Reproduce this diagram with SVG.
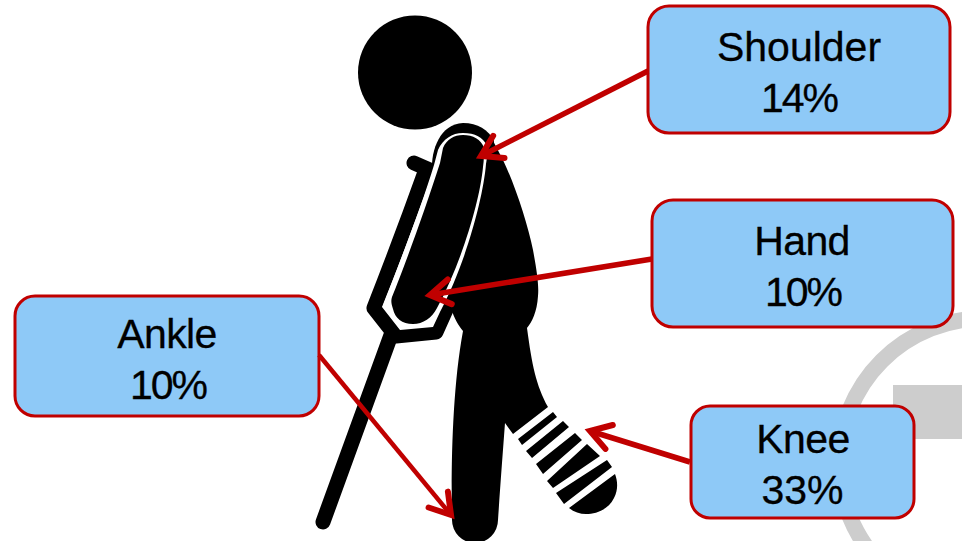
<svg xmlns="http://www.w3.org/2000/svg" width="962" height="541" viewBox="0 0 962 541">
<style>
.box{fill:#8ec9f7;stroke:#c00000;stroke-width:3}
.lbl{font-family:"Liberation Sans",Arial,sans-serif;font-size:41px;fill:#000;text-anchor:middle;stroke:#000;stroke-width:0.3}
.tight{letter-spacing:-2px}
.snug{letter-spacing:-0.6px}
.arrow{fill:none;stroke:#c00000;stroke-width:5.5;marker-end:url(#head)}
.fig{fill:#000}
.crutch{fill:none;stroke:#000;stroke-width:15;stroke-linecap:round;stroke-linejoin:round}
</style>
<defs>
<marker id="head" markerUnits="userSpaceOnUse" markerWidth="40" markerHeight="40" viewBox="-30 -20 40 40" refX="0" refY="0" orient="auto">
<path d="M-20,-12.5 L0,0 L-20,12.5" fill="none" stroke="#c00000" stroke-width="6" stroke-linecap="round" stroke-linejoin="miter"/>
</marker>
</defs>
<g id="background">
<circle cx="984" cy="463" r="144.5" fill="none" stroke="#cdcdcd" stroke-width="16"/>
<rect x="893" y="385" width="69" height="54" fill="#cdcdcd"/>
</g>
<g id="figure">
<circle class="fig" cx="415" cy="72.500" r="57"/>
<path class="fig" d="M490,135 L503,160 C515,185 528,225 533,250 C537,272 539,285 538,296 C537,312 532,322 527,328 C532,365 536,385 548,407 L513,434 L505,423 C503,450 500,490 498,520 A23,23 0 0 1 452,520 C451,470 452,390 463,331 C458,325 454,318 451,308 L445,300 Z"/>
<path class="crutch" d="M414,163 L430,170 M425,172 C415,200 392,262 374,308 L396,336 L436,332 L449,303"/>
<path class="crutch" d="M391,335 L323,522"/>
<path class="fig" d="M432,170 C431,150 440,124 463,123 C478,123 488,130 494,140 L490,200 L440,200 Z"/>
<path fill="#fff" d="M438,150 C443,139 452,133 463,133 C475,133 483,137 487,146 C488,152 487,158 486,164 C483,200 465,265 440,312 L433,327 L400,330 L382,307 C400,262 422,205 434,165 Z"/>
<path class="fig" d="M443,148 C447,139 454,135 463,135 C473,135 481,139 484,148 C484,154 484,160 483,167 C480,200 462,262 437,308 C432,318 423,324 413,324 C402,324 395,318 393,309 C391,303 391,300 392,297 C405,265 425,210 440,163 Z"/>
<path class="fig" d="M518,439 L553,412 L557,417 L522,445 Z M526,451 L563,421 L569,427 L532,458 Z M536,464 L575,433 L582,440 L543,474 Z M547,481 L587,444 L600,456 L553,488 Z M556,493 L607,460 L612,467 L564,504 Z M569,508 L615,474 C618,482 618,490 614,498 C608,510 596,514 586,514 C580,514 574,512 569,508 Z"/>
</g>
<g id="node-shoulder">
<rect class="box" x="648" y="6" width="302" height="127" rx="21"/>
<text class="lbl" x="799" y="61">Shoulder</text>
<text class="lbl tight" x="799" y="112">14%</text>
</g>
<g id="node-hand">
<rect class="box" x="652" y="200" width="301" height="127" rx="21"/>
<text class="lbl snug" x="802" y="255">Hand</text>
<text class="lbl tight" x="803" y="306">10%</text>
</g>
<g id="node-ankle">
<rect class="box" x="15" y="296" width="304" height="120" rx="20"/>
<text class="lbl snug" x="167" y="348">Ankle</text>
<text class="lbl tight" x="168" y="399">10%</text>
</g>
<g id="node-knee">
<rect class="box" x="691" y="406" width="223" height="112" rx="19"/>
<text class="lbl snug" x="803" y="453">Knee</text>
<text class="lbl" x="802.500" y="504">33%</text>
</g>
<g id="connectors">
<path class="arrow" d="M648,71 L481,156"/>
<path class="arrow" d="M652,259 L430,295"/>
<path class="arrow" style="stroke-width:4.5" d="M319,355 L451,515"/>
<path class="arrow" d="M690,462 L590,431"/>
</g>
</svg>
